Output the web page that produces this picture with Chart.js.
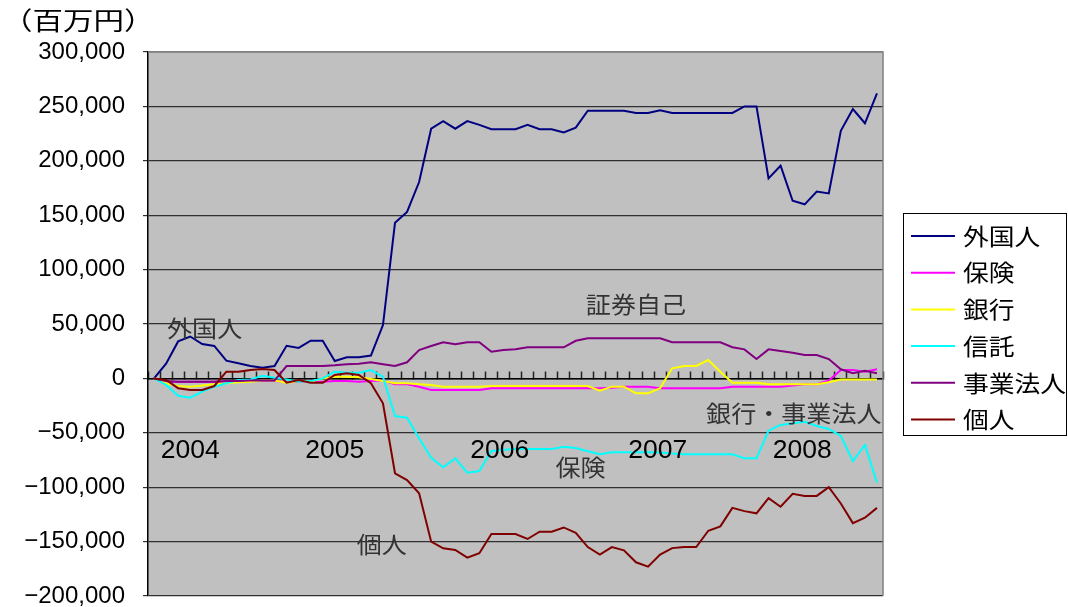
<!DOCTYPE html>
<html>
<head>
<meta charset="utf-8">
<script src="https://cdn.jsdelivr.net/npm/chart.js@4.4.1/dist/chart.umd.min.js"></script>
<style>
  html, body { margin: 0; padding: 0; background: #fff; }
  #wrap { width: 1068px; height: 607px; position: relative; }
</style>
</head>
<body>
<div id="wrap"><canvas id="chart" width="1068" height="607"></canvas></div>
<script>
// Monthly periods, 2003/10 - 2008/10
const periods = [
  '2003/10','2003/11','2003/12',
  '2004/01','2004/02','2004/03','2004/04','2004/05','2004/06','2004/07','2004/08','2004/09','2004/10','2004/11','2004/12',
  '2005/01','2005/02','2005/03','2005/04','2005/05','2005/06','2005/07','2005/08','2005/09','2005/10','2005/11','2005/12',
  '2006/01','2006/02','2006/03','2006/04','2006/05','2006/06','2006/07','2006/08','2006/09','2006/10','2006/11','2006/12',
  '2007/01','2007/02','2007/03','2007/04','2007/05','2007/06','2007/07','2007/08','2007/09','2007/10','2007/11','2007/12',
  '2008/01','2008/02','2008/03','2008/04','2008/05','2008/06','2008/07','2008/08','2008/09','2008/10'
];

// Cumulative net purchases by investor type (million yen)
const foreign = [0, 13500, 34000, 38500, 31600, 29800, 16300, 14000, 11400, 9800, 11400,
  30000, 28000, 34600, 34600, 16000, 19500, 19500, 21000, 49000, 143000,
  153000, 180500, 229500, 236500, 229500, 236500, 233000, 229000, 229000, 229000,
  233000, 229000, 229000, 226000, 230500, 246000, 246000, 246000, 246000, 244000,
  244000, 246500, 244000, 244000, 244000, 244000, 244000, 244000, 250000, 250000,
  183900, 195500, 163300, 160000, 171800, 170000, 227600, 247600, 234500, 262000];

const insurance = [0, -3000, -3000, -3000, -3000, -3000, -3000, -3000, -2500, -2500, -2500,
  -3000, -3000, -3000, -3000, -2400, -2400, -3000, -2400, -2000, -5400,
  -5400, -7600, -10600, -10600, -10600, -10600, -10600, -9000, -9000, -9000,
  -9000, -9000, -9000, -9000, -9000, -9000, -9000, -8500, -7600, -7600,
  -7600, -9000, -9000, -9000, -9000, -9000, -9000, -7600, -7600, -7600,
  -7600, -7600, -6500, -5400, -5400, -2000, 7700, 7700, 6200, 8400];

const banks = [0, -4500, -7000, -7600, -6500, -5400, -4500, -3600, -3000, -2000, -2000,
  -4000, -2400, -3000, 0, 1500, 1500, 1000, -500, -2400, -4500,
  -4500, -5400, -6000, -7600, -7600, -7600, -7600, -7000, -7000, -7000,
  -7000, -7000, -7000, -7000, -7000, -7000, -11300, -7600, -7600, -13700,
  -13700, -9000, 9300, 11400, 11400, 16900, 6200, -4000, -4000, -4000,
  -5400, -5400, -5400, -5400, -5400, -3600, -1000, -1000, -1000, -1000];

const trusts = [0, -6000, -15900, -17700, -12200, -7600, -4500, -1500, -1000, 2500, 600,
  -1000, -3000, -2500, 0, 6200, 5200, 5200, 7700, 1500, -34600,
  -36100, -55000, -72900, -81700, -73500, -86700, -85100, -66700, -65500, -65000,
  -65000, -65000, -65000, -62800, -64000, -67000, -69800, -67900, -67900, -67900,
  -67900, -68000, -69000, -69800, -69800, -69800, -69800, -69800, -73500, -73500,
  -48000, -42800, -41300, -39800, -43700, -46500, -52900, -75900, -61200, -95800];

const corporates = [0, -2500, -3000, -3000, -3000, -3000, -2500, -2500, -2000, -2000, -2000,
  11400, 11400, 11400, 11400, 12000, 13000, 13500, 14800, 13000, 11400,
  14800, 26000, 29800, 33200, 31300, 33200, 33200, 24500, 26000, 26700,
  28600, 28600, 28600, 28600, 34600, 36800, 36800, 36800, 36800, 36800,
  36800, 36800, 33200, 33200, 33200, 33200, 33200, 28600, 26700, 17800,
  26700, 25200, 23600, 21500, 21500, 17800, 8400, 4700, 7100, 4700];

const individuals = [0, -1500, -9000, -10600, -10600, -7000, 6200, 6200, 7700, 8600, 7700,
  -4000, -1500, -4000, -4000, 3100, 4700, 3100, -4500, -22900, -87200,
  -93400, -105600, -150100, -156200, -157700, -164800, -160700, -143000, -143000, -143000,
  -147600, -140900, -141000, -137000, -142000, -155000, -162000, -155000, -158000, -169000,
  -173000, -162000, -156000, -155000, -155000, -140000, -136000, -119000, -122000, -124000,
  -110000, -118000, -106000, -108000, -108000, -100000, -115000, -133000, -128000, -119000];

const seriesNames = ['外国人', '保険', '銀行', '信託', '事業法人', '個人'];
const seriesColors = ['#000080', '#FF00FF', '#FFFF00', '#00FFFF', '#800080', '#800000'];

// y-axis range
const yMin = -200000;
const yMax = 300000;
const yStep = 50000;

// Year captions inside the plot, and free-text notes
const yearTexts = ['2004', '2005', '2006', '2007', '2008'];
const noteTexts = ['外国人', '証券自己', '銀行・事業法人', '保険', '個人'];
const unitText = '（百万円）';

const CJK = '"Noto Sans CJK JP", "Noto Sans CJK SC", sans-serif';
const LATIN = '"Liberation Sans", Arial, sans-serif';

function fmt(v) {
  const s = Math.abs(v).toString().replace(/\B(?=(\d{3})+(?!\d))/g, ',');
  return v < 0 ? '\u2212' + s : s;
}

// text drawn with a horizontal stretch factor
function wideText(ctx, text, x, y, sx, align) {
  ctx.save();
  ctx.translate(x, y);
  ctx.scale(sx, 1);
  ctx.textAlign = align;
  ctx.fillText(text, 0, 0);
  ctx.restore();
}

// grey plot area
const plotBackground = {
  id: 'plotBackground',
  beforeDraw(chart) {
    const { ctx, chartArea: a } = chart;
    ctx.save();
    ctx.fillStyle = '#C0C0C0';
    ctx.fillRect(a.left, a.top, a.right - a.left, a.bottom - a.top);
    ctx.restore();
  }
};

// grey frame on top / right side of the plot
const plotFrame = {
  id: 'plotFrame',
  beforeDatasetsDraw(chart) {
    const { ctx, chartArea: a } = chart;
    ctx.save();
    ctx.strokeStyle = '#808080';
    ctx.lineWidth = 1.5;
    ctx.beginPath();
    ctx.moveTo(a.left, a.top);
    ctx.lineTo(a.right, a.top);
    ctx.lineTo(a.right, a.bottom);
    ctx.stroke();
    ctx.restore();
  }
};

// captions, legend and unit label
const overlayText = {
  id: 'overlayText',
  afterDraw(chart, args, opts) {
    const { ctx } = chart;
    const xs = chart.scales.x, ys = chart.scales.y;
    ctx.save();
    ctx.textBaseline = 'middle';

    // year captions
    ctx.fillStyle = '#000';
    ctx.font = '26px ' + LATIN;
    opts.years.forEach((t, i) => {
      wideText(ctx, t, xs.getPixelForValue(opts.yearPos[i]), ys.getPixelForValue(opts.yearValue), 1.02, 'center');
    });

    // notes
    ctx.fillStyle = '#333';
    ctx.font = '23px ' + CJK;
    opts.notes.forEach((t, i) => {
      const [p, v] = opts.notePos[i];
      wideText(ctx, t, xs.getPixelForValue(p), ys.getPixelForValue(v), 1.09, 'center');
    });

    // unit
    ctx.fillStyle = '#000';
    ctx.font = '25px ' + CJK;
    wideText(ctx, opts.unit, 2, 20, 1.22, 'left');

    // legend
    const L = opts.legend;
    ctx.fillStyle = '#fff';
    ctx.fillRect(L.x, L.y, L.w, L.h);
    ctx.strokeStyle = '#000';
    ctx.lineWidth = 1;
    ctx.strokeRect(L.x + 0.5, L.y + 0.5, L.w, L.h);
    ctx.font = '23px ' + CJK;
    ctx.fillStyle = '#000';
    chart.data.datasets.forEach((ds, i) => {
      const y = L.y + L.first + i * L.step;
      ctx.strokeStyle = ds.borderColor;
      ctx.lineWidth = 2;
      ctx.beginPath();
      ctx.moveTo(L.x + 8, y);
      ctx.lineTo(L.x + 52, y);
      ctx.stroke();
      wideText(ctx, ds.label, L.x + 60, y, 1.12, 'left');
    });
    ctx.restore();
  }
};

const dataSeries = [foreign, insurance, banks, trusts, corporates, individuals];

new Chart(document.getElementById('chart'), {
  type: 'line',
  data: {
    labels: periods,
    datasets: dataSeries.map((d, i) => ({
      label: seriesNames[i],
      data: d,
      borderColor: seriesColors[i],
      backgroundColor: seriesColors[i],
      borderWidth: 2,
      pointRadius: 0,
      tension: 0,
      fill: false,
      order: dataSeries.length - i
    }))
  },
  options: {
    responsive: false,
    animation: false,
    events: [],
    layout: { padding: { left: 0, top: 52, right: 185, bottom: 11 } },
    plugins: {
      legend: { display: false },
      tooltip: { enabled: false },
      overlayText: {
        years: yearTexts,
        yearPos: [3, 15, 28.7, 41.8, 53.8],
        yearValue: -66700,
        notes: noteTexts,
        notePos: [[4.2, 46300], [40, 68400], [53.1, -31600], [35.4, -81400], [18.9, -152200]],
        unit: unitText,
        legend: { x: 903, y: 213, w: 163, h: 222, first: 23, step: 36.7 }
      }
    },
    scales: {
      x: {
        type: 'category',
        offset: true,
        position: { y: 0 },
        ticks: { display: false },
        grid: {
          offset: true,
          drawOnChartArea: false,
          drawTicks: true,
          tickLength: -8,
          tickWidth: 1.5,
          tickColor: '#222'
        },
        border: { display: true, color: '#000', width: 1.5 }
      },
      y: {
        min: yMin,
        max: yMax,
        ticks: {
          stepSize: yStep,
          callback: v => fmt(v),
          color: '#000',
          font: { family: LATIN, size: 24 },
          padding: 18
        },
        grid: {
          color: c => (c.tick && c.tick.value === yMax) ? '#808080' : '#303030',
          lineWidth: 1.2,
          tickLength: 5,
          tickColor: '#303030'
        },
        border: { display: true, color: '#000', width: 1.5 },
        afterFit(scale) {
          scale.width = 148;
          scale.paddingTop = 0;
          scale.paddingBottom = 0;
        }
      }
    }
  },
  plugins: [plotBackground, plotFrame, overlayText]
});
</script>
</body>
</html>
